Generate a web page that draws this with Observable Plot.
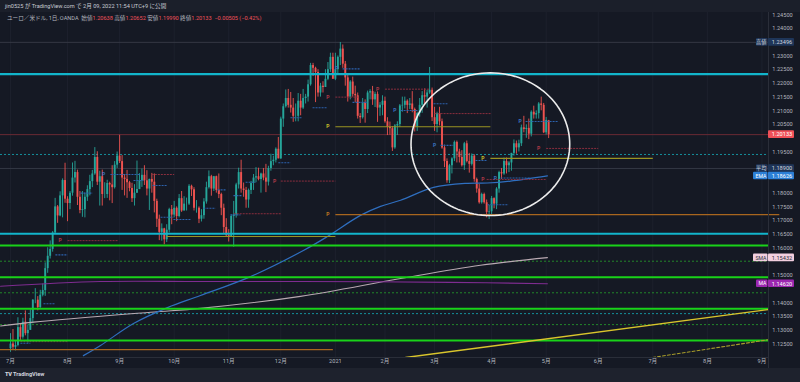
<!DOCTYPE html>
<html><head><meta charset="utf-8">
<script src="https://cdn.jsdelivr.net/npm/d3@7"></script>
<script src="https://cdn.jsdelivr.net/npm/@observablehq/plot@0.6"></script>
<style>
html,body{margin:0;padding:0;background:#151924;}
#wrap{position:relative;width:800px;height:382px;overflow:hidden;background:#151924;font-family:Roboto,"Noto Sans CJK JP",sans-serif;}
#chart svg{display:block}
#band{position:absolute;left:0;top:0;width:800px;height:12px;background:#1b1f2a;}
#h1{position:absolute;left:5px;top:2px;font-size:5.6px;color:#c8cbd3;white-space:nowrap;line-height:8px;}
#h2{position:absolute;left:7px;top:13.5px;font-size:5.6px;color:#b2b5be;white-space:nowrap;line-height:8px;}
.r{color:#f0525a}
#foot{position:absolute;left:0;top:368px;width:800px;height:14px;background:#1e222d;}
#logo{position:absolute;left:5px;top:3px;font-size:5.6px;font-weight:bold;color:#d1d4dc;white-space:nowrap;}
</style></head>
<body><div id="wrap"><div id="chart"></div><div id="band"></div>
<div id="h1">jin0525 が TradingView.com で 2月 09, 2022 11:54 UTC+9 に公開</div>
<div id="h2">ユーロ／米ドル, 1日, OANDA &nbsp;始値<span class="r">1.20638</span> 高値<span class="r">1.20652</span> 安値<span class="r">1.19990</span> 終値<span class="r">1.20133</span> &nbsp;<span class="r">−0.00505 (−0.42%)</span></div>
<div id="foot"><div id="logo"><span style="font-weight:900;letter-spacing:-0.3px">TV</span> TradingView</div></div>
</div>
<script>
// ---------- daily OHLC, EUR/USD (OANDA), 2020-07-01 .. 2021-05-04 ----------
const open = [
1.1233,1.1250,1.1238,1.1245,1.1310,1.1275,1.1330,1.1288,1.1300,1.1343,1.1410,1.1410,1.1383,1.1428,1.1445,1.1525,1.1570,1.1595,1.1655,1.1750,1.1717,1.1790,1.1846,
1.1778,1.1762,1.1800,1.1855,1.1875,1.1785,1.1737,1.1740,1.1785,1.1813,1.1842,1.1870,1.1930,1.1840,1.1860,1.1795,1.1795,1.1835,1.1830,1.1820,1.1902,
1.1935,1.1915,1.1855,1.1850,1.1838,1.1817,1.1780,1.1800,1.1813,1.1845,1.1865,1.1845,1.1815,1.1850,1.1840,1.1770,1.1705,1.1657,1.1670,1.1630,1.1665,1.1740,
1.1720,1.1745,1.1715,1.1780,1.1735,1.1760,1.1760,1.1825,1.1812,1.1745,1.1745,1.1705,1.1718,1.1768,1.1820,1.1860,1.1815,1.1860,1.1810,1.1795,1.1745,1.1675,
1.1645,1.1640,1.1715,1.1720,1.1830,1.1875,1.1815,1.1810,1.1775,1.1810,1.1835,1.1855,1.1860,1.1850,1.1870,1.1855,1.1840,1.1890,1.1915,1.1920,1.1960,
1.1925,1.2070,1.2115,1.2145,1.2120,1.2110,1.2080,1.2080,1.2135,1.2110,1.2145,1.2150,1.2195,1.2265,1.2255,1.2240,1.2165,1.2190,1.2185,1.2215,1.2250,1.2295,
1.2215,1.2250,1.2295,1.2325,1.2270,1.2220,1.2150,1.2205,1.2160,1.2155,1.2080,1.2075,1.2130,1.2105,1.2165,1.2170,1.2140,1.2160,1.2110,1.2120,
1.2135,1.2060,1.2040,1.2035,1.1965,1.2045,1.2050,1.2118,1.2120,1.2135,1.2120,1.2125,1.2105,1.2040,1.2090,1.2120,1.2155,1.2150,1.2165,1.2175,
1.2075,1.2050,1.2090,1.2060,1.1965,1.1915,1.1845,1.1900,1.1925,1.1985,1.1950,1.1930,1.1900,1.1980,1.1915,1.1905,1.1935,1.1850,1.1815,1.1765,1.1795,1.1765,1.1730,
1.1732,1.1780,1.1760,1.1815,1.1875,1.1870,1.1915,1.1900,1.1910,1.1945,1.1980,1.1965,1.1980,1.2038,1.2032,1.2036,1.2015,1.2095,1.2085,1.2090,1.2125,1.2120,
1.2020,1.20638];
const high = [
1.1288,1.1303,1.1260,1.1346,1.1325,1.1344,1.1371,1.1320,1.1375,1.1412,1.1452,1.1423,1.1446,1.1469,1.1546,1.1601,1.1626,1.1660,1.1781,1.1755,1.1805,1.1852,1.1909,
1.1787,1.1806,1.1910,1.1916,1.1884,1.1806,1.1806,1.1800,1.1827,1.1865,1.1883,1.1966,1.1951,1.1880,1.1884,1.1838,1.1847,1.1840,1.1900,1.1915,1.1950,
1.2011,1.1937,1.1868,1.1883,1.1843,1.1836,1.1831,1.1917,1.1871,1.1888,1.1900,1.1882,1.1851,1.1872,1.1870,1.1778,1.1720,1.1688,1.1672,1.1685,1.1745,1.1755,
1.1770,1.1750,1.1795,1.1806,1.1787,1.1782,1.1831,1.1829,1.1820,1.1773,1.1750,1.1740,1.1780,1.1840,1.1881,1.1865,1.1861,1.1862,1.1870,1.1800,1.1760,1.1707,
1.1667,1.1720,1.1770,1.1836,1.1891,1.1920,1.1837,1.1821,1.1815,1.1843,1.1868,1.1893,1.1891,1.1873,1.1890,1.1905,1.1898,1.1942,1.1935,1.1965,1.2003,
1.2077,1.2125,1.2176,1.2178,1.2167,1.2145,1.2125,1.2163,1.2160,1.2178,1.2160,1.2212,1.2273,1.2273,1.2259,1.2250,1.2200,1.2206,1.2250,1.2276,1.2310,1.2310,
1.2310,1.2300,1.2349,1.2340,1.2280,1.2230,1.2210,1.2223,1.2190,1.2165,1.2090,1.2145,1.2140,1.2172,1.2177,1.2189,1.2168,1.2169,1.2130,1.2155,
1.2150,1.2075,1.2059,1.2043,1.2050,1.2060,1.2123,1.2150,1.2150,1.2140,1.2145,1.2170,1.2110,1.2095,1.2145,1.2170,1.2180,1.2175,1.2258,1.2183,
1.2113,1.2095,1.2113,1.2070,1.1975,1.1925,1.1905,1.1929,1.1990,1.1990,1.1960,1.1955,1.1985,1.1990,1.1945,1.1943,1.1940,1.1855,1.1832,1.1800,1.1800,1.1775,1.1755,
1.1788,1.1783,1.1820,1.1880,1.1890,1.1928,1.1928,1.1915,1.1945,1.1994,1.1990,1.1993,1.2048,1.2080,1.2049,1.2070,1.2100,1.2117,1.2100,1.2130,1.2150,1.2127,
1.2076,1.20652];
const low = [
1.1220,1.1230,1.1225,1.1240,1.1262,1.1268,1.1280,1.1254,1.1300,1.1324,1.1397,1.1371,1.1380,1.1422,1.1424,1.1508,1.1560,1.1585,1.1652,1.1690,1.1714,1.1710,1.1763,
1.1696,1.1740,1.1789,1.1837,1.1755,1.1725,1.1712,1.1710,1.1770,1.1790,1.1820,1.1865,1.1828,1.1753,1.1753,1.1780,1.1781,1.1772,1.1762,1.1815,1.1890,
1.1908,1.1810,1.1790,1.1781,1.1805,1.1766,1.1753,1.1800,1.1813,1.1821,1.1828,1.1790,1.1737,1.1800,1.1728,1.1675,1.1627,1.1625,1.1612,1.1620,1.1655,1.1685,
1.1710,1.1696,1.1710,1.1730,1.1735,1.1735,1.1755,1.1788,1.1735,1.1727,1.1689,1.1695,1.1705,1.1760,1.1815,1.1789,1.1806,1.1800,1.1780,1.1718,1.1650,1.1640,
1.1622,1.1640,1.1603,1.1709,1.1815,1.1800,1.1785,1.1745,1.1745,1.1795,1.1810,1.1838,1.1845,1.1800,1.1845,1.1802,1.1826,1.1880,1.1900,1.1910,1.1925,
1.1923,1.2040,1.2110,1.2110,1.2092,1.2058,1.2060,1.2060,1.2082,1.2105,1.2125,1.2132,1.2190,1.2225,1.2130,1.2150,1.2150,1.2165,1.2185,1.2210,1.2240,1.2215,
1.2210,1.2230,1.2265,1.2255,1.2190,1.2132,1.2140,1.2150,1.2130,1.2070,1.2054,1.2070,1.2055,1.2090,1.2140,1.2120,1.2112,1.2058,1.2080,1.2082,
1.2055,1.2010,1.2011,1.1952,1.1960,1.2010,1.2040,1.2095,1.2107,1.2090,1.2105,1.2093,1.2023,1.2025,1.2077,1.2091,1.2125,1.2110,1.2160,1.2061,
1.2025,1.2020,1.2045,1.1960,1.1893,1.1836,1.1835,1.1870,1.1915,1.1910,1.1910,1.1895,1.1883,1.1910,1.1873,1.1899,1.1840,1.1800,1.1760,1.1760,1.1760,1.1710,1.1704,
1.1715,1.1743,1.1740,1.1800,1.1850,1.1865,1.1870,1.1875,1.1880,1.1935,1.1942,1.1950,1.1970,1.2020,1.2000,1.1995,1.2005,1.2070,1.2070,1.2070,1.2100,1.2017,
1.2012,1.19990];
const close = [
1.1250,1.1238,1.1245,1.1310,1.1275,1.1330,1.1288,1.1300,1.1343,1.1410,1.1410,1.1383,1.1428,1.1445,1.1525,1.1570,1.1595,1.1655,1.1750,1.1717,1.1790,1.1846,1.1778,
1.1762,1.1800,1.1855,1.1875,1.1785,1.1737,1.1740,1.1785,1.1813,1.1842,1.1870,1.1930,1.1840,1.1860,1.1795,1.1795,1.1835,1.1830,1.1820,1.1902,1.1935,
1.1915,1.1855,1.1850,1.1838,1.1817,1.1780,1.1800,1.1813,1.1845,1.1865,1.1845,1.1815,1.1850,1.1840,1.1770,1.1705,1.1657,1.1670,1.1630,1.1665,1.1740,1.1720,
1.1745,1.1715,1.1780,1.1735,1.1760,1.1760,1.1825,1.1812,1.1745,1.1745,1.1705,1.1718,1.1768,1.1820,1.1860,1.1815,1.1860,1.1810,1.1795,1.1745,1.1675,1.1645,
1.1640,1.1715,1.1720,1.1830,1.1875,1.1815,1.1810,1.1775,1.1810,1.1835,1.1855,1.1860,1.1850,1.1870,1.1855,1.1840,1.1890,1.1915,1.1920,1.1960,1.1925,
1.2070,1.2115,1.2145,1.2120,1.2110,1.2080,1.2080,1.2135,1.2110,1.2145,1.2150,1.2195,1.2265,1.2255,1.2240,1.2165,1.2190,1.2185,1.2215,1.2250,1.2295,1.2215,
1.2250,1.2295,1.2325,1.2270,1.2220,1.2150,1.2205,1.2160,1.2155,1.2080,1.2075,1.2130,1.2105,1.2165,1.2170,1.2140,1.2160,1.2110,1.2120,1.2135,
1.2060,1.2040,1.2035,1.1965,1.2045,1.2050,1.2118,1.2120,1.2135,1.2120,1.2125,1.2105,1.2040,1.2090,1.2120,1.2155,1.2150,1.2165,1.2175,1.2075,
1.2050,1.2090,1.2060,1.1965,1.1915,1.1845,1.1900,1.1925,1.1985,1.1950,1.1930,1.1900,1.1980,1.1915,1.1905,1.1935,1.1850,1.1815,1.1765,1.1795,1.1765,1.1730,1.1732,
1.1780,1.1760,1.1815,1.1875,1.1870,1.1915,1.1900,1.1910,1.1945,1.1980,1.1965,1.1980,1.2038,1.2032,1.2036,1.2015,1.2095,1.2085,1.2090,1.2125,1.2120,1.2020,
1.2065,1.20133];

// calendar (OANDA daily bars skip weekends and these days)
const holidays = ["2020-12-25","2021-01-01"];
const firstDay = "2020-07-01", lastAxisDay = "2021-09-30";

// price-axis tick labels
const priceTicks = [1.125,1.130,1.135,1.140,1.145,1.150,1.155,1.160,1.165,1.170,1.175,1.180,1.185,1.190,1.195,1.200,1.205,1.210,1.215,1.220,1.225,1.230,1.235,1.240,1.245];

// horizontal levels drawn on the chart
const cyanLevels = [1.2234, 1.1652];
const greenLevels = [1.1609, 1.1494, 1.1379, 1.1263];
const greenDotted = [1.1552, 1.1437, 1.1321];
const tealDashed = [1.1941, 1.1361];
const greyLevels = [1.23496, 1.18900];
const lastPrice = 1.20133;

// pivot levels (bar index from, bar index to, price)
const olivePivots = [[63, 131, 1.1642], [131, 193.5, 1.2042], [193.5, 259, 1.1927]];
const orangePivots = [[-5, 130, 1.1230], [131, 310, 1.1722]];
const redPivots = [[23,43.5,1.1627],[4,23,1.1259],[57,66,1.1868],[109,131,1.1844],[90,109,1.1725],[151,169,1.2179],[131,140,1.2150],[171,194,1.2090],[216,237,1.1963],[192,216,1.1850]];
const bluePivots = [[4,8,1.1253],[13.3,18.1,1.1397],[18.1,23,1.1575],[28.2,33.1,1.1800],[40.3,52.4,1.1868],[49.6,53.6,1.1846],[57.3,63.3,1.1828],[60.5,65.7,1.1712],[65.7,72.6,1.1704],[77.8,82.7,1.1745],[83.5,86.7,1.1812],[88.7,92.7,1.1721],[89.9,93.5,1.1791],[94.8,98.8,1.1840],[108,112.9,1.1911],[112.9,117.7,1.2075],[121.8,127.8,1.2111],[133.9,141.1,1.2253],[137.9,144,1.2131],[157.3,164.1,1.2101],[170.6,176.2,1.2126],[173.4,178.6,1.1974],[187.5,192.3,1.1919],[192.3,200.8,1.1758],[197.6,209.7,1.1855],[207.7,221,1.2061]];
const redP = [[20,1.1627],[106.5,1.1844],[148,1.2179],[128,1.2150],[213,1.1963],[190.5,1.1850]];
const blueP = [[37.5,1.1868],[131.5,1.2253],[155,1.2101],[171,1.1974],[195.5,1.1855],[205.5,1.2061]];
const oliveP = [[128,1.2042],[190.5,1.1927]];
const orangeP = [[128,1.1722]];

// moving averages (bar index, price)
const emaPts = [[29.4,1.1208],[36.3,1.1245],[49.6,1.1325],[63.3,1.1383],[76.6,1.1427],[96.8,1.1496],[118.1,1.1591],[127.8,1.1642],[141.1,1.1719],[149.2,1.1752],[157.3,1.1774],[170.6,1.1821],[184.3,1.1836],[192.3,1.1837],[201.6,1.1844],[216.5,1.1863]];
const smaPts = [[-4,1.1316],[9.3,1.1330],[56.5,1.1366],[76.6,1.1380],[116.9,1.1424],[157.3,1.1489],[189.5,1.1537],[216.5,1.1565]];
const maPts = [[-4,1.1461],[36.3,1.1478],[76.6,1.1478],[116.9,1.1478],[177,1.1475],[216.5,1.1470]];

// trend lines (two anchor points each)
const trendSolid = [[159.3,1.1201],[305.7,1.1376]];
const trendDashed = [[258.9,1.1201],[305.7,1.1266]];

// ellipse drawn around the March-April move
const ellipse = {i: 193.5, p: 1.19784, ri: 32.0, rp: 0.0260};

// price scale labels
const scaleLabels = [
  {name:"高値", p:1.23496, kind:"navy"},
  {name:"", p:1.20133, kind:"red"},
  {name:"平均", p:1.18900, kind:"navy"},
  {name:"EMA", p:1.18626, kind:"blue"},
  {name:"SMA", p:1.15432, kind:"pink", shown:1.1564},
  {name:"MA", p:1.14620, kind:"purple", shown:1.1470}
];

// ---------- build ----------
const days = [];
for (let t = Date.parse(firstDay); t <= Date.parse(lastAxisDay); t += 864e5) {
  const d = new Date(t), w = d.getUTCDay(), s = d.toISOString().slice(0,10);
  if (w > 0 && w < 6 && !holidays.includes(s)) days.push(d);
}
const monthTicks = [];
days.forEach((d,i) => {
  if (i === 0 || d.getUTCMonth() !== days[i-1].getUTCMonth())
    monthTicks.push({i, label: d.getUTCMonth() === 0 ? String(d.getUTCFullYear()) : (d.getUTCMonth()+1) + "月"});
});
const bars = close.map((c,i) => ({i, o: open[i], h: high[i], l: low[i], c, up: c >= open[i]}));

const FR = 768, FB = 357;
const xDom = [-4.03, 305.65], yDom = [1.12011, 1.25021];
const bpx = (xDom[1]-xDom[0]) / FR;   // bar units per pixel
const ppx = (yDom[1]-yDom[0]) / FB;   // price units per pixel
const xR = xDom[1];

const UP = "#26a69a", DN = "#ef5350";
const seg = a => a.map(([i1,i2,p]) => ({i1,i2,p}));
const pts = a => a.map(([i,p]) => ({i,p}));
const ell = d3.range(0, 361, 3).map(a => ({i: ellipse.i + ellipse.ri*Math.cos(a*Math.PI/180), p: ellipse.p + ellipse.rp*Math.sin(a*Math.PI/180)}));

const boxStyle = {
  navy: {bg:"#1e3558", fg:"#d1d4dc"},
  red: {bg:"#ef5058", fg:"#ffffff"},
  blue: {bg:"#2b7fd6", fg:"#ffffff"},
  pink: {bg:"#f2cfdf", fg:"#2a2e39"},
  purple: {bg:"#9c27b0", fg:"#ffffff"}
};
const labs = scaleLabels.map(d => ({...d, y: d.shown ?? d.p, ...boxStyle[d.kind]}));
const bh = 3.8 * ppx;
const FS = 5.6;
// the price scale hides tick labels covered by a label box
const visibleTicks = priceTicks.filter(t => labs.every(l => Math.abs(t - l.y) > 7 * ppx));

const chart = Plot.plot({
  width: 800, height: 368,
  marginLeft: 0, marginRight: 32, marginTop: 0, marginBottom: 11,
  x: {domain: xDom, axis: null},
  y: {domain: yDom, axis: null},
  style: {background: "#151924", overflow: "visible", fontFamily: "Roboto, 'Noto Sans CJK JP', sans-serif"},
  marks: [
    // grid
    Plot.ruleX(monthTicks, {x: "i", stroke: "#1d212d", strokeWidth: 1}),
    // full-width levels
    Plot.ruleY(greyLevels, {stroke: "#343844", strokeWidth: 1}),
    Plot.ruleY([lastPrice], {stroke: "#6a2a34", strokeWidth: 1}),
    Plot.ruleY(greenDotted, {stroke: "#22862a", strokeWidth: 1, strokeDasharray: "2,2"}),
    Plot.ruleY(tealDashed, {stroke: "#15909c", strokeWidth: 1, strokeDasharray: "2,2"}),
    // candles
    Plot.ruleX(bars, {x: "i", y1: "l", y2: "h", stroke: d => d.up ? UP : DN, strokeWidth: 0.9}),
    Plot.ruleX(bars, {x: "i", y1: "o", y2: "c", stroke: d => d.up ? UP : DN, strokeWidth: 1.9}),
    // moving averages
    Plot.line(pts(smaPts), {x: "i", y: "p", stroke: "#b9a9b2", strokeWidth: 1.1, curve: "catmull-rom"}),
    Plot.line(pts(maPts), {x: "i", y: "p", stroke: "#7e2c90", strokeWidth: 1.1, curve: "catmull-rom"}),
    Plot.line(pts(emaPts), {x: "i", y: "p", stroke: "#2f6fc0", strokeWidth: 1.2, curve: "catmull-rom"}),
    // pivot segments
    Plot.link(seg(redPivots), {x1: "i1", x2: "i2", y1: "p", y2: "p", stroke: "#8a2e3e", strokeWidth: 1, strokeDasharray: "2,1"}),
    Plot.link(seg(bluePivots), {x1: "i1", x2: "i2", y1: "p", y2: "p", stroke: "#2c62ad", strokeWidth: 1.1, strokeDasharray: "2,1"}),
    Plot.link(seg(olivePivots), {x1: "i1", x2: "i2", y1: "p", y2: "p", stroke: "#9a9422", strokeWidth: 1.2}),
    Plot.link(seg(orangePivots), {x1: "i1", x2: "i2", y1: "p", y2: "p", stroke: "#a8661e", strokeWidth: 1.3}),
    Plot.text(pts(redP), {x: "i", y: "p", text: () => "P", fill: "#b03a48", fontSize: 5, fontWeight: "bold"}),
    Plot.text(pts(blueP), {x: "i", y: "p", text: () => "P", fill: "#3a72c0", fontSize: 5, fontWeight: "bold"}),
    Plot.text(pts(oliveP), {x: "i", y: "p", text: () => "P", fill: "#c8c02a", fontSize: 5, fontWeight: "bold"}),
    Plot.text(pts(orangeP), {x: "i", y: "p", text: () => "P", fill: "#c07a22", fontSize: 5, fontWeight: "bold"}),
    // horizontal drawings
    Plot.ruleY(cyanLevels, {stroke: "#12b5cb", strokeWidth: 2.2}),
    Plot.ruleY(greenLevels, {stroke: "#19d219", strokeWidth: 2}),
    // trend lines
    Plot.line(pts(trendSolid), {x: "i", y: "p", stroke: "#d9c52c", strokeWidth: 1.4, clip: true}),
    Plot.line(pts(trendDashed), {x: "i", y: "p", stroke: "#a89d2a", strokeWidth: 1.1, strokeDasharray: "3,2", clip: true}),
    // ellipse
    Plot.line(ell, {x: "i", y: "p", stroke: "#ececec", strokeWidth: 1.6}),
    // frame separators
    Plot.ruleY([yDom[0]], {stroke: "#2a2e39", strokeWidth: 1}),
    Plot.ruleX([xR], {y1: yDom[0] - 11*ppx, y2: yDom[1], stroke: "#2a2e39", strokeWidth: 1}),
    // price axis
    Plot.text(visibleTicks, {y: d => d, text: d => d.toFixed(5), frameAnchor: "right", dx: 14, textAnchor: "middle", fill: "#b2b5be", fontSize: FS}),
    // price-scale labels
    Plot.rect(labs, {x1: () => xR, x2: () => xR + 26*bpx, y1: d => d.y - bh, y2: d => d.y + bh, fill: "bg", rx: 1}),
    Plot.rect(labs.filter(d => d.name), {x1: d => xR - (d.name.length > 2 ? 15 : 12)*bpx, x2: () => xR - 0.5*bpx, y1: d => d.y - bh, y2: d => d.y + bh, fill: "bg", rx: 1}),
    Plot.text(labs, {y: "y", text: d => d.p.toFixed(5), frameAnchor: "right", dx: 13.5, textAnchor: "middle", fill: "fg", fontSize: FS}),
    Plot.text(labs.filter(d => d.name), {y: "y", text: "name", frameAnchor: "right", dx: -2, textAnchor: "end", fill: "fg", fontSize: FS - 0.4}),
    // time axis
    Plot.text(monthTicks, {x: "i", text: "label", frameAnchor: "bottom", dy: 5, fill: "#b2b5be", fontSize: FS})
  ]
});
document.getElementById("chart").appendChild(chart);
</script></body></html>
